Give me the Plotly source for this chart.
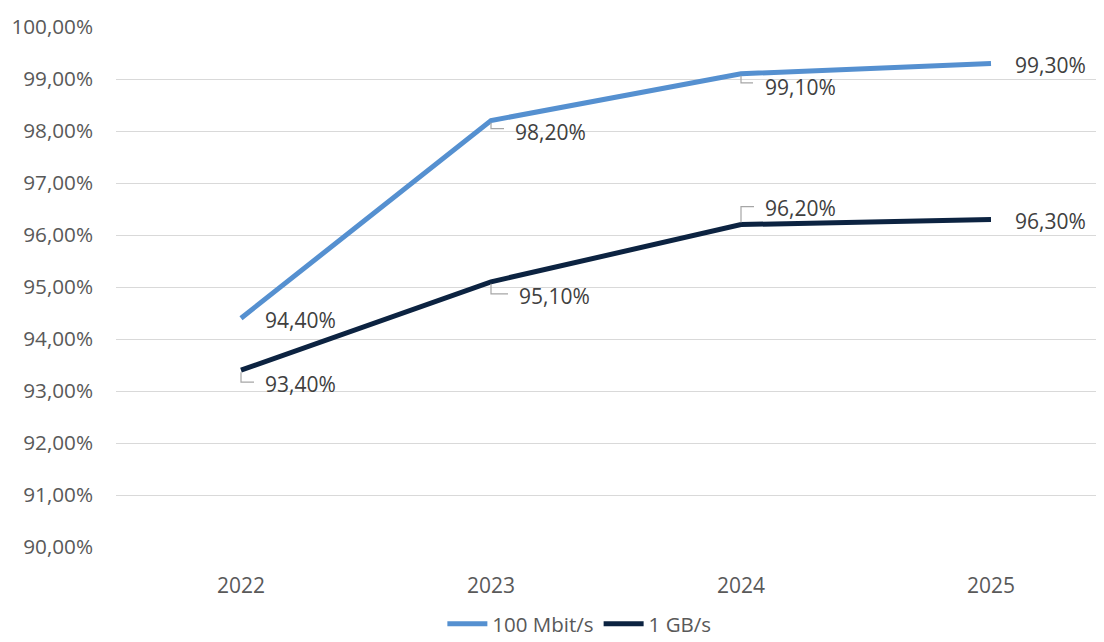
import plotly.graph_objects as go

years = ["2022", "2023", "2024", "2025"]
mbit100 = [0.944, 0.982, 0.991, 0.993]
gb1 = [0.934, 0.951, 0.962, 0.963]
series_names = ["100 Mbit/s", "1 GB/s"]

colors = ["#5590D0", "#0C2341"]
FONT = "Open Sans"
TXT = "#595959"

# label offsets (pixels): (xshift, yshift, leader) ; leader: None or (dy, dx)
label_style = {
    0: [(22, -2, None), (22, -11, (-8, 13)), (22, -13, (-9, 12)), (22, -2, None)],
    1: [(22, -14, (-12, 13)), (26, -14, (-12, 17)), (22, 17, (18, 13)), (22, -2, None)],
}

fig = go.Figure()
for i, (name, vals) in enumerate(zip(series_names, [mbit100, gb1])):
    fig.add_trace(go.Scatter(
        x=years, y=vals, name=name, mode="lines",
        line=dict(color=colors[i], width=5),
        hoverinfo="skip",
    ))

annotations = []
shapes = []
for i, vals in enumerate([mbit100, gb1]):
    for j, (yr, v) in enumerate(zip(years, vals)):
        xs, ys, leader = label_style[i][j]
        txt = f"{v*100:.2f}%".replace(".", ",")
        annotations.append(dict(
            x=j, y=v, xref="x", yref="y", text=txt, showarrow=False,
            xanchor="left", yanchor="middle", xshift=xs, yshift=ys,
            font=dict(family=FONT, size=21, color="#404040"),
        ))
        if leader:
            dy, dx = leader
            shapes.append(dict(
                type="path", xref="x", yref="y", xsizemode="pixel", ysizemode="pixel",
                xanchor=j, yanchor=v,
                path=f"M0,{-2 if dy < 0 else 2} L0,{dy} L{dx},{dy}",
                line=dict(color="#A6A6A6", width=1.2),
            ))

fig.update_layout(
    width=1096, height=634,
    margin=dict(l=108, r=0, t=19, b=95, autoexpand=False),
    paper_bgcolor="white", plot_bgcolor="white",
    separators=",.",
    font=dict(family=FONT, size=21, color=TXT),
    xaxis=dict(
        type="category", range=[-0.5, -0.5 + 988 / 250],
        showgrid=False, zeroline=False, showline=False, ticks="",
        ticklabelstandoff=24, tickfont=dict(size=21, color=TXT),
    ),
    yaxis=dict(
        range=[0.90, 1.0], dtick=0.01, tickformat=".2%",
        showgrid=True, gridcolor="#D9D9D9", gridwidth=1.3,
        zeroline=False, showline=False, ticks="",
        ticklabelstandoff=22, tickfont=dict(size=20.7, color=TXT),
    ),
    legend=dict(
        orientation="h", x=0.469, xanchor="center", y=-0.148, yanchor="middle",
        font=dict(size=20.5, color=TXT), itemwidth=40,
    ),
    annotations=annotations,
    shapes=shapes,
    showlegend=True,
)

fig.write_html("out.html")
